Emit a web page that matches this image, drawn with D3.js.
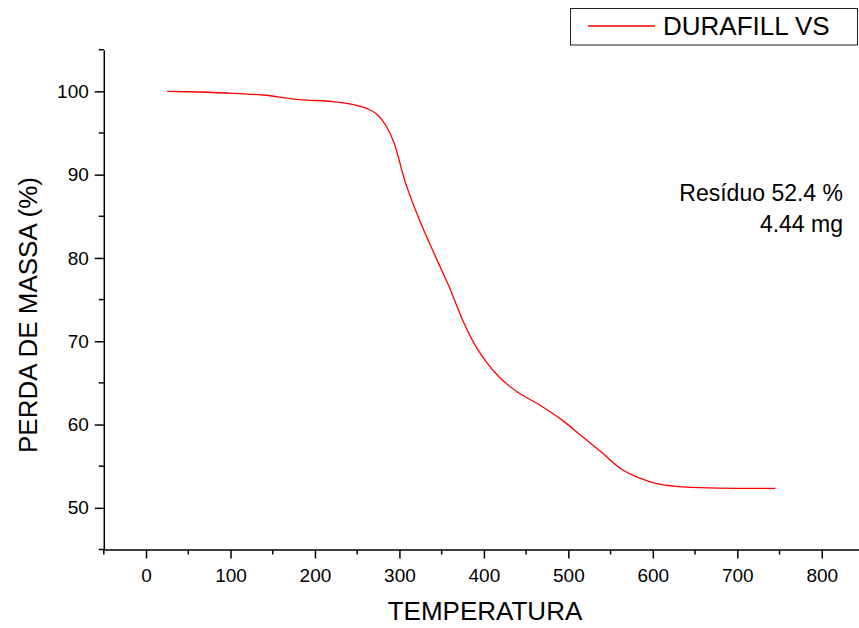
<!DOCTYPE html>
<html>
<head>
<meta charset="utf-8">
<script src="https://cdn.jsdelivr.net/npm/d3@7"></script>
<style>
  body { margin: 0; background: #fff; }
  svg text { font-family: "Liberation Sans", Arial, sans-serif; fill: #000; }
</style>
</head>
<body>
<svg id="chart" width="859" height="628"></svg>
<script>
// TGA curve
const temperatura = [25, 50, 95, 138, 182, 221, 241, 261, 274, 284, 294, 306, 324, 343, 359, 375, 391, 403, 418, 442, 466, 493, 516, 540, 562, 584, 605, 630, 655, 700, 745];
const perdaMassa  = [100, 99.95, 99.8, 99.56, 99.0, 98.77, 98.5, 97.96, 97.2, 95.9, 93.7, 89.4, 84.5, 80.1, 76.5, 72.5, 69.3, 67.5, 65.7, 63.75, 62.35, 60.5, 58.6, 56.6, 54.7, 53.6, 52.9, 52.55, 52.42, 52.35, 52.35];
const xMajor = [0, 100, 200, 300, 400, 500, 600, 700, 800];
const xMinor = [-50, 50, 150, 250, 350, 450, 550, 650, 750, 850];
const yMajor = [50, 60, 70, 80, 90, 100];
const yMinor = [45, 55, 65, 75, 85, 95, 105];
const seriesName = "DURAFILL VS";
const notes = ["Resíduo 52.4 %", "4.44 mg"];

const svg = d3.select("#chart");

const x = d3.scaleLinear().domain([-50, 850]).range([103.8, 864]);
const y = d3.scaleLinear().domain([45, 105]).range([549.5, 49.7]);

// y axis
const yAxis = svg.append("g").attr("transform", `translate(${x(-50)},0)`);
yAxis.call(d3.axisLeft(y).tickValues(yMajor).tickSize(9).tickPadding(6).tickSizeOuter(0));
yAxis.append("g").selectAll("line").data(yMinor).enter().append("line")
  .attr("x1", -5).attr("x2", 0)
  .attr("y1", d => y(d)).attr("y2", d => y(d));

// x axis
const xAxis = svg.append("g").attr("transform", `translate(0,${y(45)})`);
xAxis.call(d3.axisBottom(x).tickValues(xMajor).tickSize(9).tickPadding(10).tickSizeOuter(0));
xAxis.append("g").selectAll("line").data(xMinor).enter().append("line")
  .attr("x1", d => x(d)).attr("x2", d => x(d))
  .attr("y1", 0).attr("y2", 5);

svg.selectAll(".domain, .tick line, g > g > line")
  .attr("stroke", "#000").attr("stroke-width", 1.5);
svg.selectAll(".tick text")
  .style("font-family", '"Liberation Sans", Arial, sans-serif')
  .style("font-size", "19px").attr("fill", "#000");

// curve
const pts = temperatura.map((t, i) => [t, perdaMassa[i]]);
svg.append("path")
  .datum(pts)
  .attr("fill", "none")
  .attr("stroke", "#ff0000")
  .attr("stroke-width", 1.3)
  .attr("d", d3.line().x(d => x(d[0])).y(d => y(d[1])).curve(d3.curveMonotoneX));

// axis titles
svg.append("text")
  .attr("x", 485).attr("y", 620)
  .attr("text-anchor", "middle")
  .style("font-size", "26px")
  .text("TEMPERATURA");

svg.append("text")
  .attr("transform", "translate(37,315) rotate(-90)")
  .attr("text-anchor", "middle")
  .style("font-size", "26px")
  .text("PERDA DE MASSA (%)");

// legend
const leg = svg.append("g");
leg.append("rect")
  .attr("x", 570.5).attr("y", 8.5).attr("width", 287).attr("height", 36.5)
  .attr("fill", "#fff").attr("stroke", "#222").attr("stroke-width", 1);
leg.append("line")
  .attr("x1", 588).attr("x2", 655).attr("y1", 26).attr("y2", 26)
  .attr("stroke", "#ff0000").attr("stroke-width", 1.3);
leg.append("text")
  .attr("x", 663).attr("y", 35)
  .style("font-size", "26px")
  .text(seriesName);

// annotation
svg.append("g").selectAll("text").data(notes).enter().append("text")
  .attr("x", 843)
  .attr("y", (d, i) => 201 + i * 31)
  .attr("text-anchor", "end")
  .style("font-size", "23px")
  .text(d => d);
</script>
</body>
</html>
